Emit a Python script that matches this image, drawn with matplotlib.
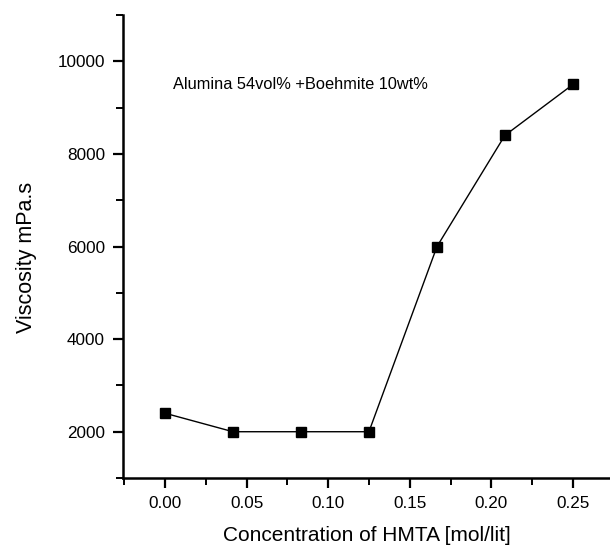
import matplotlib
matplotlib.use("Agg")
import matplotlib.pyplot as plt
from matplotlib.ticker import MultipleLocator

plt.rcParams['font.family'] = ['Liberation Sans', 'DejaVu Sans']

conc = [0.0, 0.0417, 0.0833, 0.125, 0.1667, 0.2083, 0.25]
viscosity = [2400, 2000, 2000, 2000, 6000, 8400, 9500]
xticks = [0.00, 0.05, 0.10, 0.15, 0.20, 0.25]
xtick_labels = ["0.00", "0.05", "0.10", "0.15", "0.20", "0.25"]
yticks = [2000, 4000, 6000, 8000, 10000]

fig = plt.figure(figsize=(6.10, 5.46), dpi=100)
ax = fig.add_axes([0.2016, 0.1245, 0.7984, 0.848])

ax.plot(conc, viscosity, color='black', linewidth=1.0, marker='s',
        markersize=6.5, markerfacecolor='black', markeredgecolor='black')

ax.set_xlim(-0.0257, 0.2727)
ax.set_ylim(1000, 11000)
ax.set_xticks(xticks)
ax.set_xticklabels(xtick_labels)
ax.set_yticks(yticks)
ax.xaxis.set_minor_locator(MultipleLocator(0.025))
ax.yaxis.set_minor_locator(MultipleLocator(1000))

for s in ['top', 'right']:
    ax.spines[s].set_visible(False)
for s in ['left', 'bottom']:
    ax.spines[s].set_linewidth(1.8)

ax.tick_params(which='major', direction='out', length=7, width=1.6, labelsize=12.3, pad=6)
ax.tick_params(which='minor', direction='out', length=5, width=1.4)

ax.set_xlabel("Concentration of HMTA [mol/lit]", fontsize=15, labelpad=11)
ax.set_ylabel("Viscosity mPa.s", fontsize=15.5, labelpad=15)
ax.yaxis.label.set_y(0.477)

ax.text(0.0047, 9500, "Alumina 54vol% +Boehmite 10wt%", fontsize=11.8,
        ha='left', va='center')

fig.savefig("out.png", dpi=100)
